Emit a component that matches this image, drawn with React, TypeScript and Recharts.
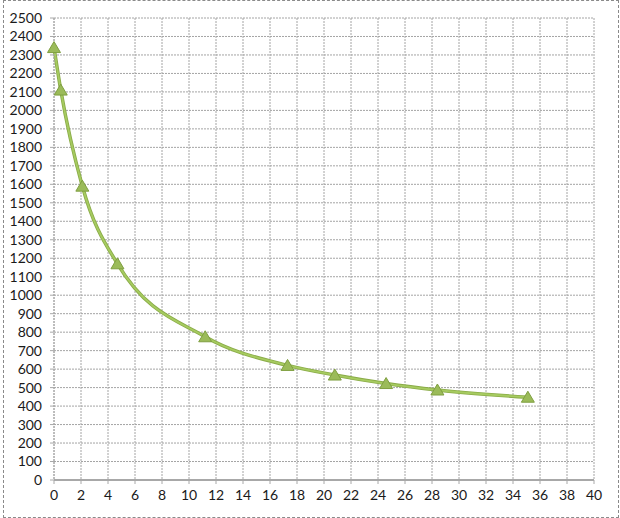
import { LineChart, Line, XAxis, YAxis, CartesianGrid } from "recharts";

const xValues = [0, 0.5, 2.1, 4.7, 11.2, 17.3, 20.8, 24.6, 28.4, 35.1];
const yValues = [2340, 2110, 1590, 1170, 775, 620, 568, 522, 487, 448];

const xTicks = [0, 2, 4, 6, 8, 10, 12, 14, 16, 18, 20, 22, 24, 26, 28, 30, 32, 34, 36, 38, 40];
const yTicks = [
  0, 100, 200, 300, 400, 500, 600, 700, 800, 900, 1000, 1100, 1200, 1300, 1400, 1500, 1600, 1700, 1800, 1900, 2000,
  2100, 2200, 2300, 2400, 2500,
];

const data = xValues.map((x, i) => ({ x, y: yValues[i] }));

const FONT = "Lato, 'Open Sans', sans-serif";

function Triangle(props: any) {
  const { cx, cy } = props;
  if (cx == null || cy == null) return null;
  const pts = `${cx},${cy - 6} ${cx + 6.5},${cy + 5} ${cx - 6.5},${cy + 5}`;
  return <polygon points={pts} fill="#9bbb59" stroke="#7f9f40" strokeWidth={1} />;
}

export default function App() {
  return (
    <div style={{ position: "absolute", left: 0, top: 0, width: 620, height: 518, background: "#fff" }}>
      <div
        style={{
          position: "absolute",
          left: 3,
          top: 0,
          width: 616,
          height: 518,
          boxSizing: "border-box",
          border: "1px dashed #8a8a8a",
        }}
      />
      <LineChart width={620} height={518} data={data} margin={{ top: 18, right: 26, left: 0, bottom: 8 }}>
        <CartesianGrid stroke="#a4a4a4" strokeDasharray="2 1" />
        <XAxis
          dataKey="x"
          type="number"
          domain={[0, 40]}
          ticks={xTicks}
          interval={0}
          height={30}
          tickSize={4}
          tickMargin={6}
          axisLine={{ stroke: "#a8a8a8", strokeWidth: 2 }}
          tickLine={{ stroke: "#a8a8a8" }}
          tick={{ fill: "#1a1a1a", fontSize: 14, fontFamily: FONT }}
        />
        <YAxis
          type="number"
          domain={[0, 2500]}
          ticks={yTicks}
          interval={0}
          width={54}
          tickSize={4}
          tickMargin={8}
          axisLine={{ stroke: "#a8a8a8", strokeDasharray: "2 1" }}
          tickLine={{ stroke: "#a8a8a8" }}
          tick={{ fill: "#1a1a1a", fontSize: 14, fontFamily: FONT }}
        />
        <Line
          dataKey="y"
          type="monotone"
          stroke="#8aab48"
          strokeWidth={3.5}
          dot={false}
          activeDot={false}
          isAnimationActive={false}
        />
        <Line
          dataKey="y"
          type="monotone"
          stroke="#a6cb60"
          strokeWidth={1.8}
          dot={<Triangle />}
          activeDot={false}
          isAnimationActive={false}
        />
      </LineChart>
    </div>
  );
}
